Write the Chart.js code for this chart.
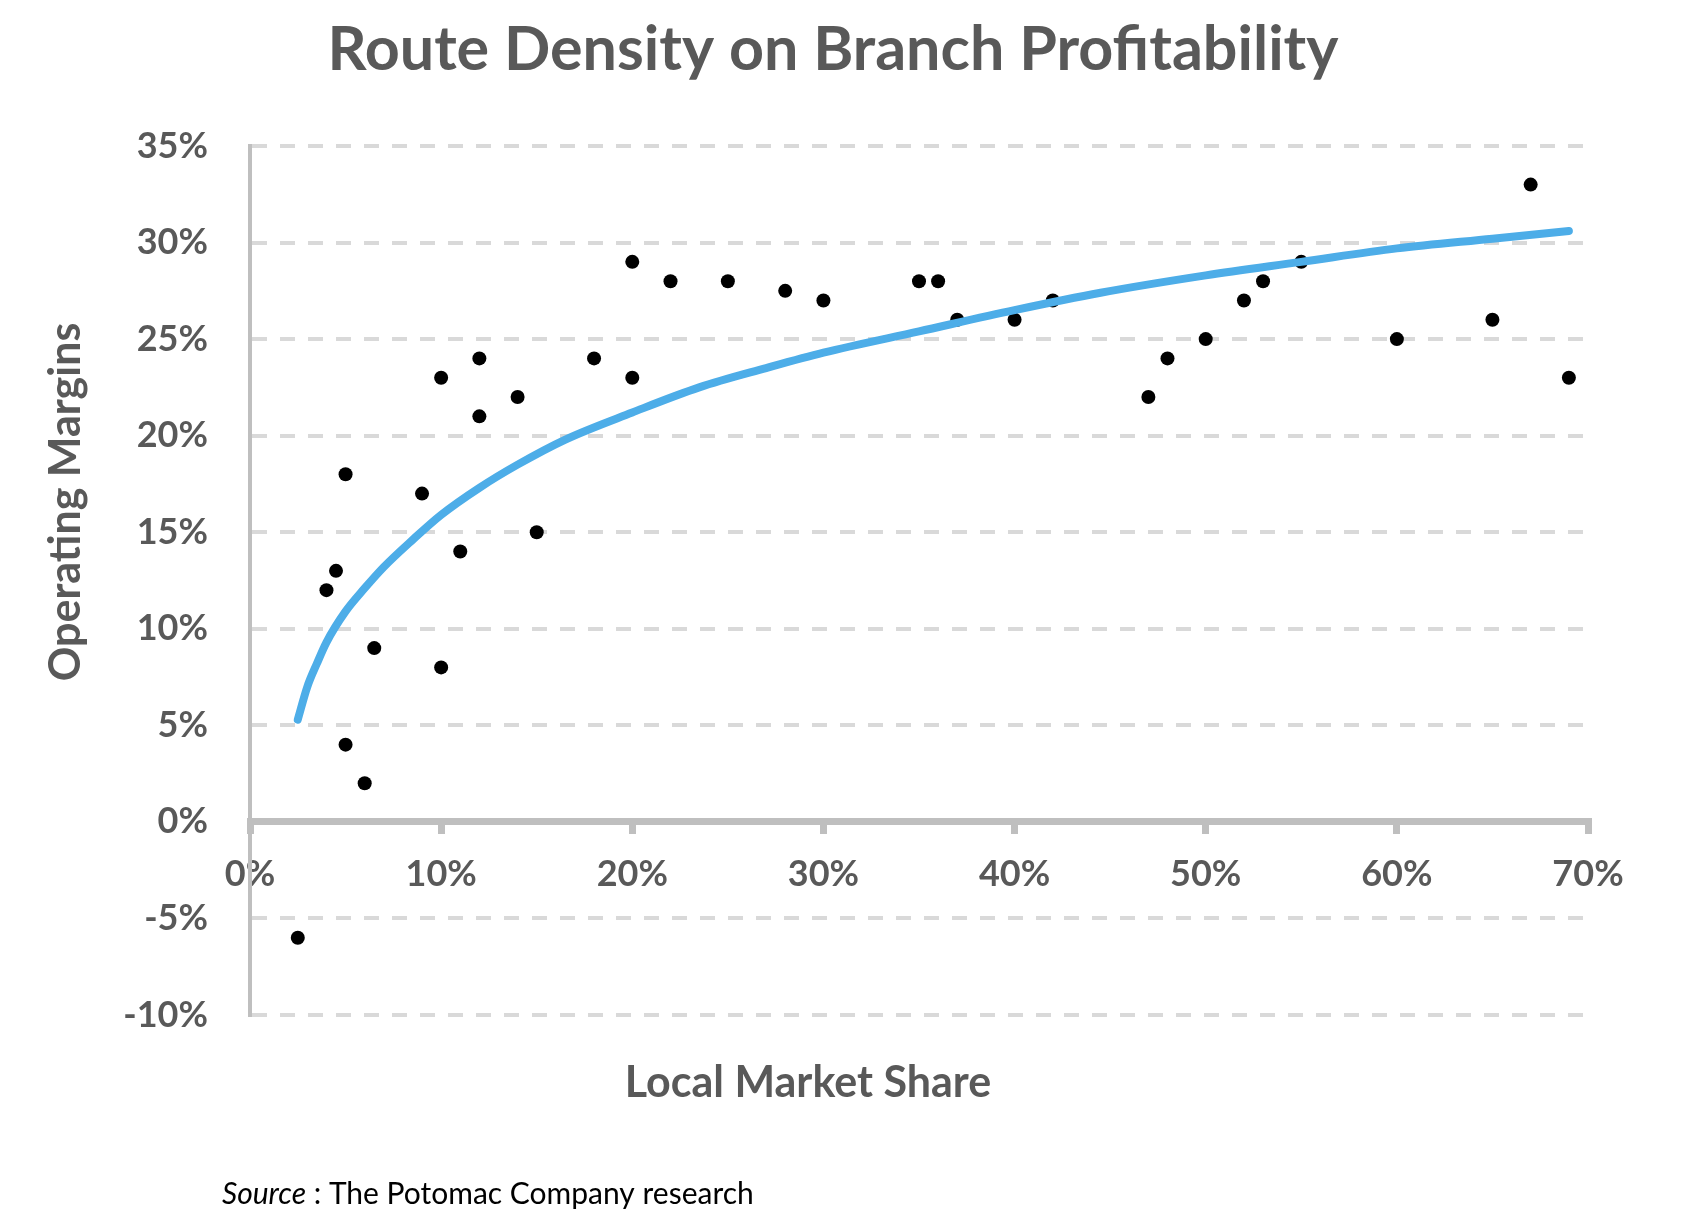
<!DOCTYPE html>
<html>
<head>
<meta charset="utf-8">
<script src="https://cdn.jsdelivr.net/npm/chart.js@4.4.1/dist/chart.umd.min.js"></script>
<style>
  body { margin: 0; background: #fff; }
</style>
</head>
<body>
<canvas id="myChart" width="1692" height="1228"></canvas>
<script>
// branch data (percent)
const marketShare = [2.5, 4, 4.5, 5, 5, 6, 6.5, 9, 10, 10, 11, 12, 12, 14, 15, 18, 20, 20, 22, 25,
                     28, 30, 35, 36, 37, 40, 42, 47, 48, 50, 52, 53, 55, 60, 65, 67, 69];
const margins = [-6, 12, 13, 18, 4, 2, 9, 17, 23, 8, 14, 24, 21, 22, 15, 24, 29, 23, 28, 28,
                 27.5, 27, 28, 28, 26, 26, 27, 22, 24, 25, 27, 28, 29, 25, 26, 33, 23];

// trend line
const trendShare = [2.5, 3, 3.5, 4, 5, 6, 7, 8.5, 10, 12, 14, 16.5, 20, 23.5, 27, 30, 35, 40, 44.5, 50, 55, 60, 65, 69];
const trendMargin = [5.3, 7.0, 8.2, 9.3, 10.9, 12.1, 13.2, 14.6, 15.9, 17.3, 18.5, 19.8, 21.2, 22.5, 23.5, 24.3, 25.4, 26.5, 27.4, 28.3, 29.0, 29.7, 30.2, 30.6];

const xTicks = [0, 10, 20, 30, 40, 50, 60, 70];
const yTicks = [-10, -5, 0, 5, 10, 15, 20, 25, 30, 35];

const chartTitle = 'Route Density on Branch Profitability';
const xTitle = 'Local Market Share';
const yTitle = 'Operating Margins';

const FONT = 'Lato';
const GRAY = '#595959';

// titles + source note, Excel puts them off-center so draw them by hand
const textPlugin = {
  id: 'texts',
  afterDraw(chart) {
    const c = chart.ctx;
    c.save();
    c.fillStyle = GRAY;
    c.textAlign = 'center';
    c.textBaseline = 'alphabetic';
    c.font = 'bold 61px ' + FONT;
    c.fillText(chartTitle, 833, 70);
    c.font = 'bold 43px ' + FONT;
    c.fillText(xTitle, 808, 1097);
    c.translate(80, 502);
    c.rotate(-Math.PI / 2);
    c.fillText(yTitle, 0, 0);
    c.restore();

    c.save();
    c.fillStyle = '#000';
    c.textAlign = 'left';
    c.font = 'italic 30px ' + FONT;
    c.fillText('Source', 222, 1204);
    const w = c.measureText('Source').width;
    c.font = '30px ' + FONT;
    c.fillText(' : The Potomac Company research', 222 + w, 1204);
    c.restore();
  }
};

var ctx = document.getElementById('myChart').getContext('2d');

var chart = new Chart(ctx, {
    type: 'scatter',
    data: {
        datasets: [{
            label: 'trend',
            data: trendShare.map((x, i) => ({x: x, y: trendMargin[i]})),
            showLine: true,
            borderColor: '#4DADE8',
            borderWidth: 8,
            borderCapStyle: 'round',
            cubicInterpolationMode: 'monotone',
            pointRadius: 0,
            order: 0
        }, {
            label: 'branches',
            data: marketShare.map((x, i) => ({x: x, y: margins[i]})),
            backgroundColor: '#000',
            borderWidth: 0,
            pointRadius: 7,
            order: 1
        }]
    },
    options: {
        responsive: false,
        animation: false,
        devicePixelRatio: 1,
        events: [],
        layout: {
            padding: {top: 146, right: 104, bottom: 213, left: 0}
        },
        plugins: {
            legend: {display: false},
            tooltip: {enabled: false}
        },
        scales: {
            x: {
                type: 'linear',
                position: {y: 0},
                min: 0,
                max: 70,
                afterBuildTicks: (s) => { s.ticks = xTicks.map(v => ({value: v})); },
                grid: {
                    drawOnChartArea: false,
                    drawTicks: true,
                    tickLength: 9,
                    tickWidth: 7,
                    lineWidth: 7,
                    tickColor: '#BFBFBF'
                },
                border: {color: '#BFBFBF', width: 7},
                ticks: {
                    padding: 22,
                    color: GRAY,
                    font: {family: FONT, size: 36, weight: 'bold'},
                    callback: (v) => v + '%'
                }
            },
            y: {
                type: 'linear',
                min: -10,
                max: 35,
                afterBuildTicks: (s) => { s.ticks = yTicks.map(v => ({value: v})); },
                afterFit: (s) => { s.width = 250; },
                grid: {
                    drawTicks: false,
                    lineWidth: 4,
                    color: (c) => c.tick && c.tick.value === 0 ? 'rgba(0,0,0,0)' : '#D9D9D9'
                },
                border: {color: '#BFBFBF', width: 4, dash: [15, 13]},
                ticks: {
                    padding: 42,
                    color: GRAY,
                    font: {family: FONT, size: 36, weight: 'bold'},
                    callback: (v) => v + '%'
                }
            }
        }
    },
    plugins: [textPlugin]
});
</script>
</body>
</html>
